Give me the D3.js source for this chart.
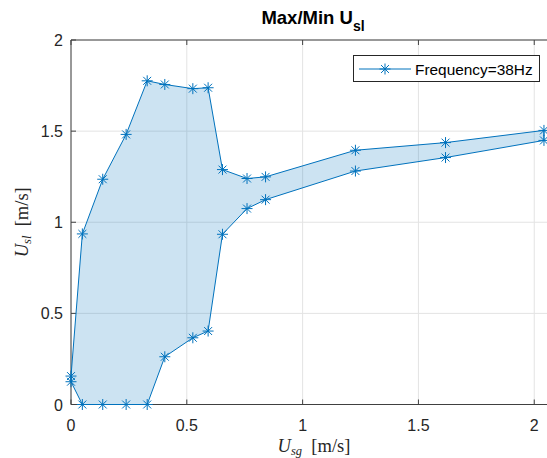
<!DOCTYPE html>
<html>
<head>
<meta charset="utf-8">
<script src="https://cdn.jsdelivr.net/npm/d3@7"></script>
<style>
  body { margin: 0; background: #fff; }
  svg { display: block; }
</style>
</head>
<body>
<div id="viz"></div>
<script>
// Data
const usg = [0, 0.049, 0.137, 0.238, 0.329, 0.405, 0.526, 0.592, 0.654, 0.760, 0.840, 1.228, 1.617, 2.042];
const uslMax = [0.156, 0.936, 1.236, 1.482, 1.776, 1.756, 1.733, 1.738, 1.289, 1.240, 1.249, 1.395, 1.437, 1.504];
const uslMin = [0.125, 0, 0, 0, 0, 0.262, 0.366, 0.403, 0.934, 1.075, 1.124, 1.281, 1.355, 1.449];
const xTicks = [0, 0.5, 1, 1.5, 2];
const yTicks = [0, 0.5, 1, 1.5, 2];
const legendLabel = "Frequency=38Hz";

const width = 547;
const height = 458;
const plotLeft = 71, plotTop = 40, plotBottom = 404.5;
const plotRight = 557.4; // axes run past the picture edge

const blue = "#0072BD";
const axisColor = "#404040";
const gridColor = "#e3e3e3";

const svg = d3.select("#viz").append("svg")
    .attr("width", width)
    .attr("height", height)
    .style("font-family", "'Liberation Sans', Arial, sans-serif");

const x = d3.scaleLinear().domain([0, 2.1]).range([plotLeft, plotRight]);
const y = d3.scaleLinear().domain([0, 2]).range([plotBottom, plotTop]);

// grid
svg.append("g").selectAll("line")
    .data(xTicks).enter().append("line")
    .attr("x1", d => x(d)).attr("x2", d => x(d))
    .attr("y1", plotTop).attr("y2", plotBottom)
    .attr("stroke", gridColor);
svg.append("g").selectAll("line")
    .data(yTicks).enter().append("line")
    .attr("x1", plotLeft).attr("x2", plotRight)
    .attr("y1", d => y(d)).attr("y2", d => y(d))
    .attr("stroke", gridColor);

// polygon: max curve out, min curve back
const pts = usg.map((u, i) => [u, uslMax[i]])
    .concat(usg.map((u, i) => [u, uslMin[i]]).reverse());

const lineGen = d3.line().x(d => x(d[0])).y(d => y(d[1]));

// axes box
svg.append("line").attr("x1", plotLeft).attr("x2", plotRight).attr("y1", plotTop).attr("y2", plotTop)
    .attr("stroke", axisColor);
svg.append("line").attr("x1", plotLeft).attr("x2", plotRight).attr("y1", plotBottom).attr("y2", plotBottom)
    .attr("stroke", axisColor);
svg.append("line").attr("x1", plotLeft).attr("x2", plotLeft).attr("y1", plotTop).attr("y2", plotBottom)
    .attr("stroke", axisColor);

// ticks (inward, bottom + top, left)
xTicks.forEach(t => {
    svg.append("line").attr("x1", x(t)).attr("x2", x(t)).attr("y1", plotBottom).attr("y2", plotBottom - 5)
        .attr("stroke", axisColor);
    svg.append("line").attr("x1", x(t)).attr("x2", x(t)).attr("y1", plotTop).attr("y2", plotTop + 5)
        .attr("stroke", axisColor);
});
yTicks.forEach(t => {
    svg.append("line").attr("x1", plotLeft).attr("x2", plotLeft + 5).attr("y1", y(t)).attr("y2", y(t))
        .attr("stroke", axisColor);
});

svg.append("path")
    .attr("d", lineGen(pts) + "Z")
    .attr("fill", blue)
    .attr("fill-opacity", 0.2)
    .attr("stroke", blue)
    .attr("stroke-width", 1);

// asterisk markers
function star(g, cx, cy, r) {
    const s = r * 0.72;
    g.append("path")
        .attr("d", `M${cx - r},${cy}L${cx + r},${cy}M${cx},${cy - r}L${cx},${cy + r}` +
                   `M${cx - s},${cy - s}L${cx + s},${cy + s}M${cx - s},${cy + s}L${cx + s},${cy - s}`)
        .attr("stroke", blue)
        .attr("stroke-width", 1)
        .attr("fill", "none");
}
const markers = svg.append("g");
pts.forEach(p => star(markers, x(p[0]), y(p[1]), 5.5));

// tick labels
svg.append("g").selectAll("text")
    .data(xTicks).enter().append("text")
    .attr("x", d => x(d)).attr("y", 431)
    .attr("text-anchor", "middle")
    .attr("font-size", 16)
    .attr("fill", "#262626")
    .text(d => d3.format("~g")(d));
svg.append("g").selectAll("text")
    .data(yTicks).enter().append("text")
    .attr("x", 63).attr("y", d => y(d) + 6)
    .attr("text-anchor", "end")
    .attr("font-size", 16)
    .attr("fill", "#262626")
    .text(d => d3.format("~g")(d));

// title
const title = svg.append("text")
    .attr("x", 313).attr("y", 24)
    .attr("text-anchor", "middle")
    .attr("font-size", 18.5)
    .attr("font-weight", "bold")
    .attr("fill", "#000");
title.append("tspan").text("Max/Min U");
title.append("tspan").attr("dy", 7).attr("font-size", 14).text("sl");

// axis labels (LaTeX style)
const serif = "'Liberation Serif', 'DejaVu Serif', serif";
const xl = svg.append("text")
    .attr("x", 314).attr("y", 452)
    .attr("text-anchor", "middle")
    .attr("font-family", serif)
    .attr("font-size", 18.5)
    .attr("fill", "#262626");
xl.append("tspan").attr("font-style", "italic").text("U");
xl.append("tspan").attr("font-style", "italic").attr("font-size", 12.5).attr("dy", 3).text("sg");
xl.append("tspan").attr("dy", -3).text("\u2002[m/s]");

const yl = svg.append("text")
    .attr("transform", `translate(28,${(plotTop + plotBottom) / 2}) rotate(-90)`)
    .attr("text-anchor", "middle")
    .attr("font-family", serif)
    .attr("font-size", 18.5)
    .attr("fill", "#262626");
yl.append("tspan").attr("font-style", "italic").text("U");
yl.append("tspan").attr("font-style", "italic").attr("font-size", 12.5).attr("dy", 3).text("sl");
yl.append("tspan").attr("dy", -3).text("\u2002[m/s]");

// legend
const lg = svg.append("g");
lg.append("rect")
    .attr("x", 353.5).attr("y", 55.5).attr("width", 186).attr("height", 26)
    .attr("fill", "#fff").attr("stroke", "#262626").attr("stroke-width", 1);
lg.append("line").attr("x1", 359).attr("x2", 411).attr("y1", 69).attr("y2", 69)
    .attr("stroke", blue);
star(lg, 385, 69, 5.5);
lg.append("text")
    .attr("x", 415).attr("y", 74.5)
    .attr("font-size", 15.4)
    .attr("fill", "#000")
    .text(legendLabel);
</script>
</body>
</html>
